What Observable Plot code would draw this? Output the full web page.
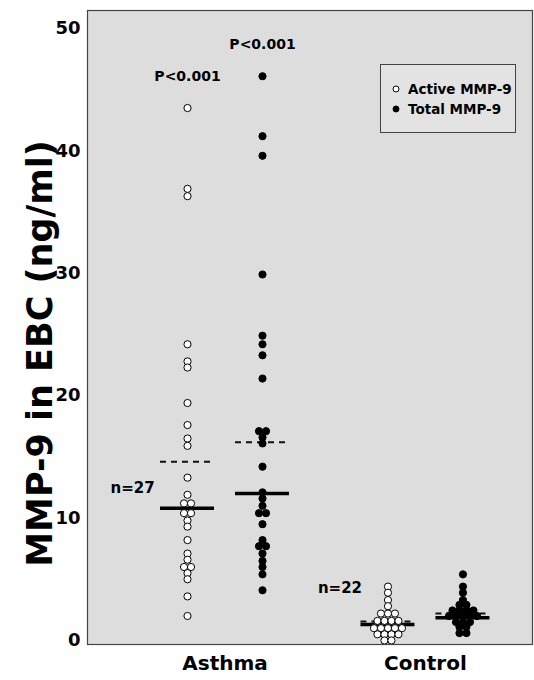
<!DOCTYPE html>
<html><head><meta charset="utf-8">
<script src="https://cdn.jsdelivr.net/npm/d3@7"></script>
<script src="https://cdn.jsdelivr.net/npm/@observablehq/plot@0.6"></script>
<style>
body{margin:0;background:#fff;}
#wrap{position:relative;width:534px;height:680px;font-family:"DejaVu Sans",sans-serif;font-weight:bold;}
#legend{position:absolute;left:380px;top:64px;width:136px;height:69px;box-sizing:border-box;border:1px solid #444;background:#e3e3e3;font-size:13.5px;color:#000;}
.item{position:absolute;left:11px;height:16px;display:flex;align-items:center;}
.item svg{margin-right:8px;}
</style></head><body><div id="wrap"></div>
<script>
// ---- data ----
const groups = ["Asthma", "Control"];
const seriesNames = ["Active MMP-9", "Total MMP-9"];
const asthmaActive = [43.5, 36.9, 36.3, 24.2, 22.8, 22.3, 19.4, 17.6, 16.5, 15.9, 13.3, 11.9, 11.2, 11.2, 10.4, 10.4, 9.8, 9.3, 8.2, 7.1, 6.6, 6.0, 6.0, 5.5, 5.0, 3.6, 2.0];
const asthmaTotal = [46.1, 41.2, 39.6, 29.9, 24.9, 24.2, 23.3, 21.4, 17.1, 17.1, 16.6, 16.1, 14.2, 12.1, 11.6, 11.0, 10.4, 10.4, 9.5, 8.2, 7.7, 7.7, 7.1, 6.5, 6.0, 5.4, 4.1];
const controlActive = [4.4, 3.9, 3.3, 2.8, 2.2, 2.2, 2.2, 1.6, 1.6, 1.6, 1.6, 1.0, 1.0, 1.0, 1.0, 1.0, 0.5, 0.5, 0.5, 0.5, 0.0, 0.0];
const controlTotal = [5.4, 4.4, 3.9, 3.3, 2.9, 2.9, 2.45, 2.45, 2.45, 2.45, 2.0, 2.0, 2.0, 2.0, 2.0, 1.5, 1.5, 1.5, 1.1, 1.1, 0.6, 0.6];
// order: Asthma active, Asthma total, Control active, Control total
const medians = [10.8, 12.0, 1.3, 1.85];
const means = [14.6, 16.2, 1.55, 2.2];
const nLabels = ["n=27", "n=22"];
const pLabels = ["P<0.001", "P<0.001"];
const yTicks = [0, 10, 20, 30, 40, 50];

// ---- layout ----
const W = 534, H = 680;
const mL = 87, mR = 2, mT = 10, mB = 36;
const xDomain = [0.314, 2.534];
const ppu = (W - mL - mR) / (xDomain[1] - xDomain[0]);
const SERIES_OFF = 37.5 / ppu;
const DOT_STEP = 7;
const HALF = 27 / ppu;

const seriesData = [[asthmaActive, asthmaTotal], [controlActive, controlTotal]];
const xpos = (g, s) => g + 1 + (s === 0 ? -SERIES_OFF : SERIES_OFF);

const dots = [];
seriesData.forEach((pair, g) => pair.forEach((values, s) => {
  const counts = d3.rollup(values, v => v.length, d => d);
  const seen = new Map();
  values.forEach(v => {
    const n = counts.get(v), i = seen.get(v) || 0;
    seen.set(v, i + 1);
    dots.push({group: groups[g], series: seriesNames[s], g, s, value: v, x: xpos(g, s) + (i - (n - 1) / 2) * DOT_STEP / ppu});
  });
}));

const stats = [];
[0, 1].forEach(g => [0, 1].forEach(s => {
  stats.push({g, s, median: medians[g * 2 + s], mean: means[g * 2 + s], cx: xpos(g, s)});
}));

const pRows = [0, 1].map(s => ({s, text: pLabels[s], x: xpos(0, s), y: d3.max(seriesData[0][s])}));
const nRows = [0, 1].map(g => ({g, text: nLabels[g], x: xpos(g, 0), y: medians[g * 2]}));

const chart = Plot.plot({
  width: W, height: H,
  marginLeft: mL, marginRight: mR, marginTop: mT, marginBottom: mB,
  style: {fontFamily: "DejaVu Sans", fontWeight: "bold", color: "#000", background: "#fff"},
  x: {domain: xDomain},
  y: {domain: [-0.33, 51.47]},
  marks: [
    Plot.frame({fill: "#dddddd", stroke: null}),
    Plot.axisY({ticks: yTicks, tickSize: 0, tickPadding: 7, fontSize: 18, label: null}),
    Plot.axisX({ticks: [1, 2], tickFormat: d => groups[d - 1], tickSize: 0, tickPadding: 11, fontSize: 20, label: null}),
    Plot.text(["MMP-9 in EBC (ng/ml)"], {frameAnchor: "left", textAnchor: "middle", rotate: -90, dx: -47, dy: 26, fontSize: 35, fontWeight: "bold", fill: "#000"}),
    Plot.ruleY(stats, {y: "mean", x1: d => d.cx - HALF, x2: d => d.cx + HALF, stroke: "#111", strokeWidth: 2, strokeDasharray: "6,5"}),
    Plot.ruleY(stats, {y: "median", x1: d => d.cx - HALF, x2: d => d.cx + HALF, stroke: "#000", strokeWidth: 3.5}),
    Plot.dot(dots, {x: "x", y: "value", r: 3.6, fill: d => d.s === 0 ? "#fff" : "#000", stroke: "#000", strokeWidth: 1}),
    Plot.text(pRows, {x: "x", y: "y", text: "text", dy: -32, fontSize: 14, fontWeight: "bold", fill: "#000"}),
    Plot.text(nRows.filter(d => d.g === 0), {x: "x", y: "y", text: "text", dx: -55, dy: -20, fontSize: 15, fontWeight: "bold", fill: "#000"}),
    Plot.text(nRows.filter(d => d.g === 1), {x: "x", y: "y", text: "text", dx: -48, dy: -36, fontSize: 15, fontWeight: "bold", fill: "#000"}),
    Plot.frame({stroke: "#444", strokeWidth: 1.2})
  ]
});

const wrap = document.getElementById("wrap");
wrap.appendChild(chart);

const legend = document.createElement("div");
legend.id = "legend";
seriesNames.forEach((name, s) => {
  const it = document.createElement("div");
  it.className = "item";
  it.style.top = (s === 0 ? 15.5 : 36) + "px";
  it.innerHTML = `<svg width="8" height="8"><circle cx="4" cy="4" r="3" fill="${s === 0 ? "#fff" : "#000"}" stroke="#000" stroke-width="1"/></svg><span>${name}</span>`;
  legend.appendChild(it);
});
wrap.appendChild(legend);
</script>
</body></html>
